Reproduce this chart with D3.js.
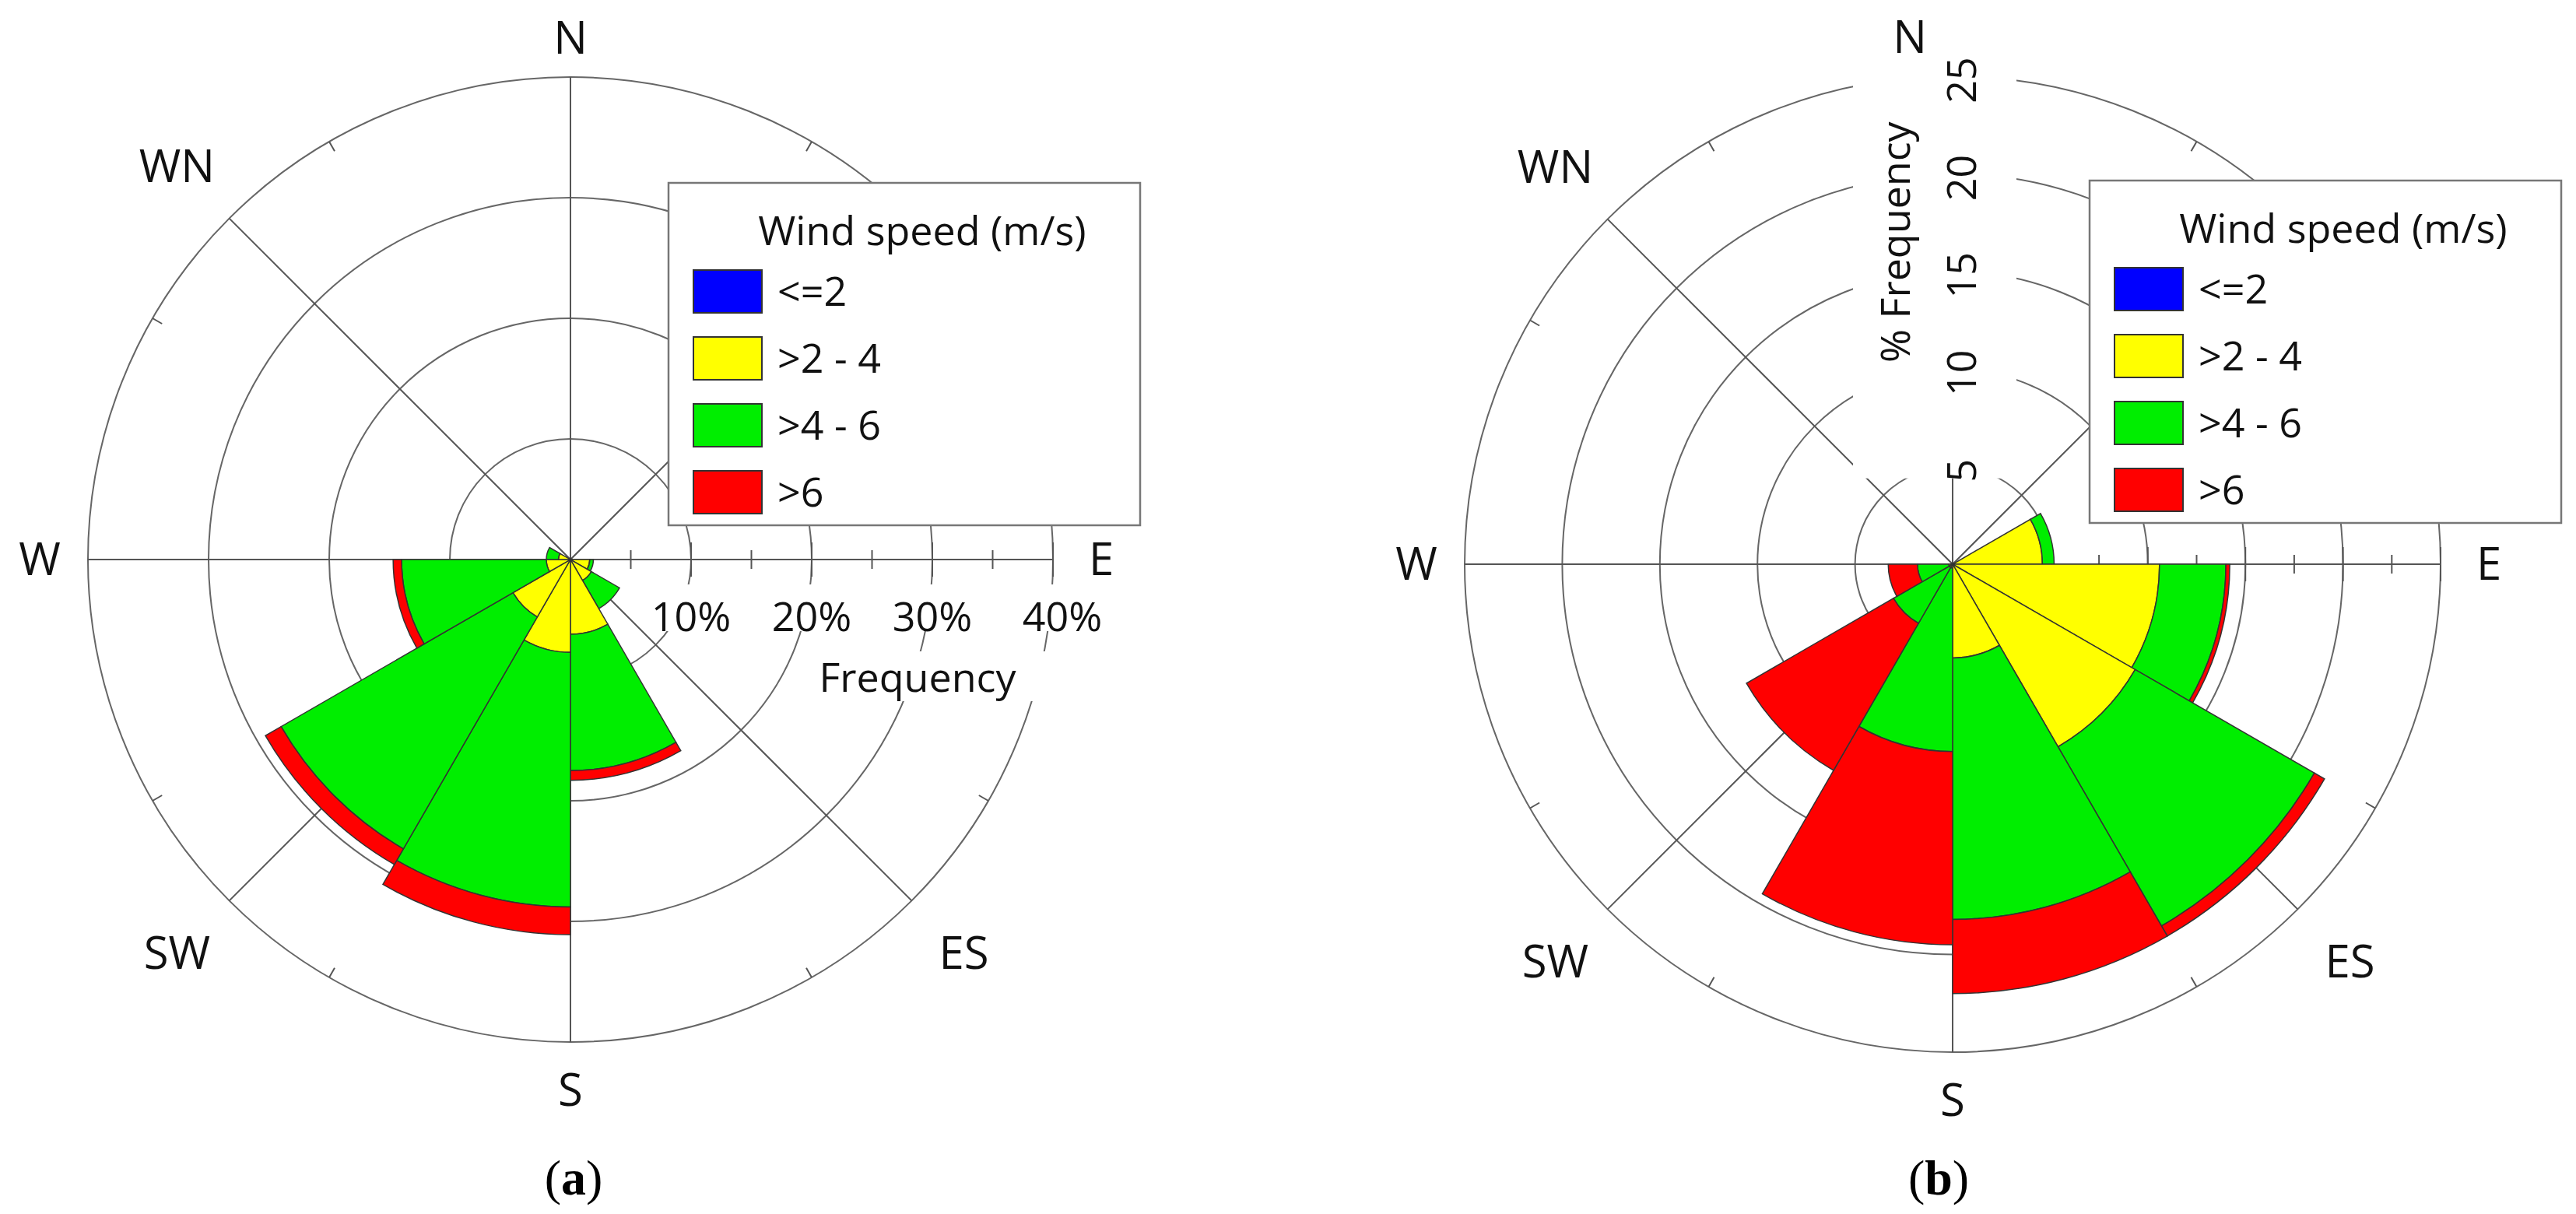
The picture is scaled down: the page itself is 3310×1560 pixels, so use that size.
<!DOCTYPE html>
<html><head><meta charset="utf-8">
<script src="https://cdn.jsdelivr.net/npm/d3@7/dist/d3.min.js"></script>
<style>body{margin:0;background:#fff}svg{display:block}</style>
</head><body>
<script>
// ---- data ----
const speedClasses = ["<=2", ">2 - 4", ">4 - 6", ">6"];
const classColors = ["#0000ff", "#ffff00", "#00ee00", "#ff0000"];
const diagLabels = [["WN",315],["SW",225],["ES",135]];
// chart (a): bin start angles (deg) and stacked frequencies (%)
const aStart = [90, 120, 150, 180, 210, 240, 270];
const aBlue  = [0.1, 0.1, 0.1, 0.1, 0.1, 0.1, 0.1];
const aYel   = [1.5, 1.9, 6.1, 7.6, 5.4, 1.9, 0.9];
const aGreen = [0.3, 2.7, 11.3, 21.1, 22.2, 12.0, 1.0];
const aRed   = [0.0, 0.0, 0.8, 2.3, 1.5, 0.7, 0.0];
const aTicks = [10, 20, 30, 40];
// chart (b)
const bStart = [60, 90, 120, 150, 180, 210, 240];
const bBlue  = [0.1, 0.1, 0.1, 0.1, 0.1, 0.1, 0.1];
const bYel   = [4.5, 10.5, 10.7, 4.7, 0.1, 0.1, 0.1];
const bGreen = [0.6, 3.4, 10.6, 13.4, 9.4, 3.3, 1.6];
const bRed   = [0.0, 0.2, 0.6, 3.8, 9.9, 8.7, 1.5];
const bTicks = [5, 10, 15, 20, 25];

const W = 3310, H = 1560;
const svg = d3.select("body").append("svg").attr("width", W).attr("height", H);
const FONT = "'Open Sans','Noto Sans',sans-serif";

function rose(cfg){
  const g = svg.append("g").attr("transform", `translate(${cfg.cx},${cfg.cy})`);
  const r = d3.scaleLinear().domain([0, cfg.max]).range([0, cfg.R]);
  const grid = g.append("g");
  cfg.ticks.forEach(t => grid.append("circle").attr("r", r(t)).attr("fill","none").attr("stroke","#666").attr("stroke-width",2));
  [0,45,90,135].forEach(a => {
    const rad = a*Math.PI/180;
    grid.append("line").attr("x1", -cfg.R*Math.sin(rad)).attr("y1", cfg.R*Math.cos(rad))
      .attr("x2", cfg.R*Math.sin(rad)).attr("y2", -cfg.R*Math.cos(rad)).attr("stroke","#555").attr("stroke-width",2);
  });
  d3.range(0,360,30).forEach(a => {
    if (a % 90 === 0) return;
    const rad = a*Math.PI/180;
    grid.append("line").attr("x1", (cfg.R-14)*Math.sin(rad)).attr("y1", -(cfg.R-14)*Math.cos(rad))
      .attr("x2", cfg.R*Math.sin(rad)).attr("y2", -cfg.R*Math.cos(rad)).attr("stroke","#555").attr("stroke-width",2);
  });
  d3.range(cfg.minor, cfg.max+0.001, cfg.minor).forEach(v => {
    const major = cfg.ticks.includes(v);
    grid.append("line").attr("x1", r(v)).attr("x2", r(v)).attr("y1", -(major?22:12)).attr("y2", major?22:12)
      .attr("stroke","#555").attr("stroke-width",2);
  });
  const overlay = g.append("g"); // white masks behind axis labels
  const arc = d3.arc();
  const layers = [cfg.blue, cfg.yel, cfg.green, cfg.red];
  cfg.start.forEach((s,i) => {
    let acc = 0;
    layers.forEach((L,k) => {
      const v = L[i]; if (v <= 0) return;
      g.append("path").attr("d", arc({innerRadius: r(acc), outerRadius: r(acc+v),
        startAngle: s*Math.PI/180, endAngle: (s+30)*Math.PI/180}))
        .attr("fill", classColors[k]).attr("stroke","#333").attr("stroke-width",1.5);
      acc += v;
    });
  });
  const lab = g.append("g").attr("font-family", FONT).attr("font-size", 58).attr("fill","#111").attr("text-anchor","middle");
  [["N",0,cfg.nOff,50],["E",90,0,62],["S",180,0,62],["W",270,0,62]].forEach(([t,a,off,gap]) => {
    const rad = a*Math.PI/180, rr = cfg.R + gap;
    lab.append("text").attr("x", rr*Math.sin(rad) + off).attr("y", -rr*Math.cos(rad)).attr("dy","0.35em").text(t);
  });
  diagLabels.forEach(([t,a]) => {
    const rad = a*Math.PI/180, rr = cfg.R + 95;
    lab.append("text").attr("x", rr*Math.sin(rad)).attr("y", -rr*Math.cos(rad)).attr("dy","0.35em").text(t);
  });
  return {g, r, overlay};
}

function legend(x, y){
  const lg = svg.append("g").attr("transform", `translate(${x},${y})`).attr("font-family", FONT);
  lg.append("rect").attr("width", 606).attr("height", 440).attr("fill","#fff").attr("stroke","#777").attr("stroke-width",2.5);
  lg.append("text").attr("x", 326).attr("y", 80).attr("text-anchor","middle").attr("font-size",52).attr("fill","#111").text("Wind speed (m/s)");
  speedClasses.forEach((c,i) => {
    const yy = 112 + i*86;
    lg.append("rect").attr("x", 32).attr("y", yy).attr("width", 88).attr("height", 55).attr("fill", classColors[i]).attr("stroke","#333").attr("stroke-width",2);
    lg.append("text").attr("x", 140).attr("y", yy+46).attr("font-size",52).attr("fill","#111").text(c);
  });
}

// ---- chart (a) ----
const A = rose({cx:733, cy:719, R:620, max:40, ticks:aTicks, minor:5, start:aStart, blue:aBlue, yel:aYel, green:aGreen, red:aRed, nOff:0});
A.overlay.append("rect").attr("x", A.r(10)-50).attr("y", 32).attr("width", A.r(40)-A.r(10)+110).attr("height", 60).attr("fill","#fff");
A.overlay.append("rect").attr("x", 335).attr("y", 118).attr("width", 300).attr("height", 64).attr("fill","#fff");
const at = A.g.append("g").attr("font-family", FONT).attr("font-size", 52).attr("fill","#111").attr("text-anchor","middle");
aTicks.forEach(t => at.append("text").attr("x", A.r(t) + (t===40?12:0)).attr("y", 92).text(t + "%"));
at.append("text").attr("x", 446).attr("y", 170).text("Frequency");
legend(859, 235);

// ---- chart (b) ----
const B = rose({cx:2509, cy:725, R:627, max:25, ticks:bTicks, minor:2.5, start:bStart, blue:bBlue, yel:bYel, green:bGreen, red:bRed, nOff:-55});
B.overlay.append("rect").attr("x", -128).attr("y", -B.r(25)-10).attr("width", 210).attr("height", B.r(25)-B.r(4)).attr("fill","#fff");
const bt = B.g.append("g").attr("font-family", FONT).attr("font-size", 52).attr("fill","#111").attr("text-anchor","middle");
bTicks.forEach(t => bt.append("text").attr("transform", `translate(30,${-B.r(t)+5}) rotate(-90)`).text(t));
bt.append("text").attr("transform", `translate(-55,${-B.r(16.5)}) rotate(-90)`).text("% Frequency");
legend(2685, 232);

// captions
svg.append("text").attr("x", 737).attr("y", 1535).attr("text-anchor","middle").attr("font-family","'Liberation Serif',serif").attr("font-size",64).html("(<tspan font-weight='bold'>a</tspan>)");
svg.append("text").attr("x", 2491).attr("y", 1535).attr("text-anchor","middle").attr("font-family","'Liberation Serif',serif").attr("font-size",64).html("(<tspan font-weight='bold'>b</tspan>)");
</script>
</body></html>
